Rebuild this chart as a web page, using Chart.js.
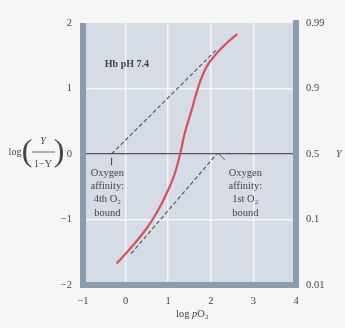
<!DOCTYPE html>
<html>
<head>
<meta charset="utf-8">
<script src="https://cdn.jsdelivr.net/npm/chart.js@4.4.1/dist/chart.umd.min.js"></script>
<style>
  html, body { margin: 0; padding: 0; background: #f6f6f4; }
  #wrap { width: 345px; height: 328px; }
</style>
</head>
<body>
<div id="wrap"><canvas id="hill" width="345" height="328"></canvas></div>
<script>
// Hill plot for haemoglobin
const xTicks = [-1, 0, 1, 2, 3, 4];
const yTicks = [-2, -1, 0, 1, 2];
const yRightLabels = ['0.01', '0.1', '0.5', '0.9', '0.99'];

const hillX = [-0.21, 0.14, 0.50, 0.77, 1.00, 1.16, 1.28, 1.39, 1.55, 1.71, 1.90, 2.14, 2.37, 2.62];
const hillY = [-1.67, -1.42, -1.13, -0.85, -0.55, -0.29, 0.00, 0.32, 0.67, 1.03, 1.33, 1.54, 1.69, 1.83];

// asymptotes (dashed)
const highAffX = [-0.33, 2.13];
const highAffY = [0, 1.59];
const lowAffX = [0.13, 2.14];
const lowAffY = [-1.52, 0];

// little leader lines from labels
const leader4thX = [-0.33, -0.33];
const leader4thY = [-0.06, -0.17];
const leader1stX = [2.17, 2.33];
const leader1stY = [0.01, -0.09];

const label4th = ['Oxygen', 'affinity:', '4th O\u2082', 'bound'];
const label1st = ['Oxygen', 'affinity:', '1st O\u2082', 'bound'];

const pts = (xs, ys) => xs.map((x, i) => ({ x: x, y: ys[i] }));
const minus = v => String(v).replace('-', '\u2212');

const SERIF = '"Liberation Serif", "DejaVu Serif", serif';
const INK = '#454545';

const frame = {
  id: 'frame',
  beforeDraw(chart) {
    const a = chart.chartArea, c = chart.ctx;
    c.save();
    c.fillStyle = '#d5dce5';
    c.fillRect(a.left, a.top, a.right - a.left, a.bottom - a.top);
    c.restore();
  },
  afterDatasetsDraw(chart) {
    const a = chart.chartArea, c = chart.ctx;
    const sx = chart.scales.x, sy = chart.scales.y;
    c.save();
    c.strokeStyle = '#8c9cb0';
    c.lineWidth = 6;
    c.lineCap = 'butt';
    c.beginPath();
    c.moveTo(a.left, a.top);
    c.lineTo(a.left, a.bottom + 3);
    c.moveTo(a.left - 3, a.bottom);
    c.lineTo(a.right + 3, a.bottom);
    c.moveTo(a.right, a.bottom + 3);
    c.lineTo(a.right, a.top - 3);
    c.stroke();

    c.fillStyle = INK;
    c.textAlign = 'center';
    c.textBaseline = 'middle';
    c.font = 'bold 10px ' + SERIF;
    c.fillText('Hb pH 7.4', sx.getPixelForValue(0.03), sy.getPixelForValue(1.36));

    c.font = '10.5px ' + SERIF;
    label4th.forEach((t, i) => {
      c.fillText(t, sx.getPixelForValue(-0.43), sy.getPixelForValue(-0.29) + i * 13.3);
    });
    label1st.forEach((t, i) => {
      c.fillText(t, sx.getPixelForValue(2.81), sy.getPixelForValue(-0.29) + i * 13.3);
    });

    // right-hand Y label
    c.font = 'italic 10px ' + SERIF;
    c.textAlign = 'left';
    c.fillText('Y', 336, sy.getPixelForValue(0));

    // left axis title: log(Y / (1-Y))
    const yc = sy.getPixelForValue(0) - 2;
    c.font = '10px ' + SERIF;
    c.textAlign = 'center';
    c.fillText('log', 15, yc);
    c.font = '32px ' + SERIF;
    c.fillText('(', 27, yc + 1);
    c.fillText(')', 59, yc + 1);
    c.font = 'italic 10px ' + SERIF;
    c.fillText('Y', 43, yc - 11);
    c.font = '10px ' + SERIF;
    c.fillText('1\u2212Y', 43, yc + 12);
    c.strokeStyle = INK;
    c.lineWidth = 0.8;
    c.beginPath();
    c.moveTo(32, yc);
    c.lineTo(55, yc);
    c.stroke();

    // bottom axis title: log pO2
    const ty = 314;
    let x = 176;
    c.textAlign = 'left';
    c.font = '10.5px ' + SERIF;
    c.fillText('log ', x, ty);
    x += c.measureText('log ').width;
    c.font = 'italic 10.5px ' + SERIF;
    c.fillText('p', x, ty);
    x += c.measureText('p').width;
    c.font = '10.5px ' + SERIF;
    c.fillText('O', x, ty);
    x += c.measureText('O').width;
    c.font = '7px ' + SERIF;
    c.fillText('2', x, ty + 3);
    c.restore();
  }
};

const dashed = {
  showLine: true,
  borderColor: '#4c5058',
  borderWidth: 1.1,
  borderDash: [4, 2.5],
  pointRadius: 0
};
const leader = {
  showLine: true,
  borderColor: '#4c5058',
  borderWidth: 0.9,
  pointRadius: 0
};

new Chart(document.getElementById('hill'), {
  type: 'scatter',
  data: {
    datasets: [
      {
        data: pts(hillX, hillY),
        showLine: true,
        borderColor: '#d9505a',
        borderWidth: 2.2,
        pointRadius: 0,
        tension: 0.4
      },
      Object.assign({ data: pts(highAffX, highAffY) }, dashed),
      Object.assign({ data: pts(lowAffX, lowAffY) }, dashed),
      Object.assign({ data: pts(leader4thX, leader4thY) }, leader),
      Object.assign({ data: pts(leader1stX, leader1stY) }, leader)
    ]
  },
  options: {
    responsive: false,
    animation: false,
    layout: { padding: { top: 23, left: 0, right: 0, bottom: 0 } },
    plugins: { legend: { display: false }, tooltip: { enabled: false } },
    scales: {
      x: {
        type: 'linear',
        position: 'bottom',
        min: -1,
        max: 4,
        afterBuildTicks: s => { s.ticks = xTicks.map(v => ({ value: v })); },
        afterFit: s => { s.height = 43; },
        border: { display: false },
        grid: {
          drawTicks: false,
          lineWidth: 1.5,
          color: ctx => (ctx.tick && (ctx.tick.value === -1 || ctx.tick.value === 4)) ? 'rgba(0,0,0,0)' : '#f4f6f9'
        },
        ticks: {
          autoSkip: false,
          maxRotation: 0,
          padding: 10,
          color: INK,
          font: { family: SERIF, size: 10.5 },
          callback: v => minus(v)
        }
      },
      y: {
        type: 'linear',
        position: 'left',
        min: -2,
        max: 2,
        afterBuildTicks: s => { s.ticks = yTicks.map(v => ({ value: v })); },
        afterFit: s => { s.width = 83; },
        border: { display: false },
        grid: {
          drawTicks: false,
          lineWidth: ctx => (ctx.tick && ctx.tick.value === 0) ? 1.3 : 1.5,
          color: ctx => {
            const v = ctx.tick ? ctx.tick.value : null;
            if (v === 0) return '#50555e';
            if (v === 2 || v === -2) return 'rgba(0,0,0,0)';
            return '#f4f6f9';
          }
        },
        ticks: {
          padding: 11,
          color: INK,
          font: { family: SERIF, size: 10.5 },
          callback: v => minus(v)
        }
      },
      y2: {
        type: 'linear',
        position: 'right',
        min: -2,
        max: 2,
        afterBuildTicks: s => { s.ticks = yTicks.map(v => ({ value: v })); },
        afterFit: s => { s.width = 49; },
        border: { display: false },
        grid: { display: false, drawTicks: false },
        ticks: {
          padding: 10,
          color: INK,
          font: { family: SERIF, size: 10.5 },
          callback: v => yRightLabels[yTicks.indexOf(v)]
        }
      }
    }
  },
  plugins: [frame]
});
</script>
</body>
</html>
